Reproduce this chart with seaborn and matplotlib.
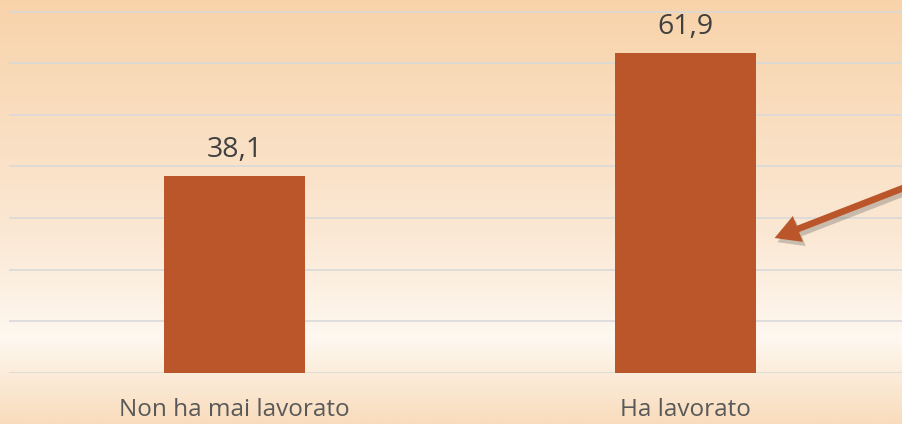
import numpy as np
import matplotlib
matplotlib.use("Agg")
import matplotlib.pyplot as plt
import matplotlib.patheffects as pe
from matplotlib.colors import LinearSegmentedColormap
import seaborn as sns

# data
categories = ["Non ha mai lavorato", "Ha lavorato"]
values = [38.1, 61.9]
y_ticks = [0, 10, 20, 30, 40, 50, 60, 70]

bar_color = "#bb562b"

sns.set_style("white")
plt.rcParams["font.family"] = ["Open Sans", "DejaVu Sans"]

fig = plt.figure(figsize=(9.02, 4.24), dpi=100)

# gradient background (peach -> near white -> peach)
bg = fig.add_axes([0, 0, 1, 1], zorder=-1)
bg_cmap = LinearSegmentedColormap.from_list(
    "bg", [(0.0, "#f8d3aa"), (0.55, "#fbe8d4"), (0.80, "#fef8f0"), (1.0, "#f9dcbc")])
bg.imshow(np.linspace(0, 1, 256).reshape(-1, 1), aspect="auto", cmap=bg_cmap,
          extent=[0, 1, 0, 1])
bg.axis("off")

ax = fig.add_axes([9 / 902, 51 / 424, 1.0, 361.5 / 424])
ax.set_facecolor("none")

sns.barplot(x=categories, y=values, color=bar_color, saturation=1,
            width=0.3125, ax=ax, zorder=3, linewidth=0)

labels = [f"{v:.1f}".replace(".", ",") for v in values]
ax.bar_label(ax.containers[0], labels=labels, padding=9,
             fontsize=20.5, color="#404040")

ax.set_ylim(0, 70)
ax.set_xlim(-0.5, 1.5)
ax.set_yticks(y_ticks)
ax.set_yticklabels([])
ax.grid(axis="y", color="#d9d9d9", linewidth=1.2, zorder=0)
ax.set_axisbelow(True)
ax.tick_params(axis="both", length=0)
ax.tick_params(axis="x", labelsize=17.5, labelcolor="#595959", pad=18)
ax.set_xlabel("")
ax.set_ylabel("")
for s in ax.spines.values():
    s.set_visible(False)

# callout arrow coming in from the right
arr = ax.annotate("", xy=(772 / 902, 1 - 239 / 424), xycoords="figure fraction",
                  xytext=(1.01, 1 - 185 / 424), textcoords="figure fraction",
                  arrowprops=dict(arrowstyle="simple,head_length=0.9,head_width=1.0,tail_width=0.24",
                                  mutation_scale=20, color=bar_color, lw=0))
arr.arrow_patch.set_path_effects([pe.SimplePatchShadow(offset=(2, -3), alpha=0.3, shadow_rgbFace="#555555"),
                                  pe.Normal()])

fig.savefig("out.png", dpi=100)
